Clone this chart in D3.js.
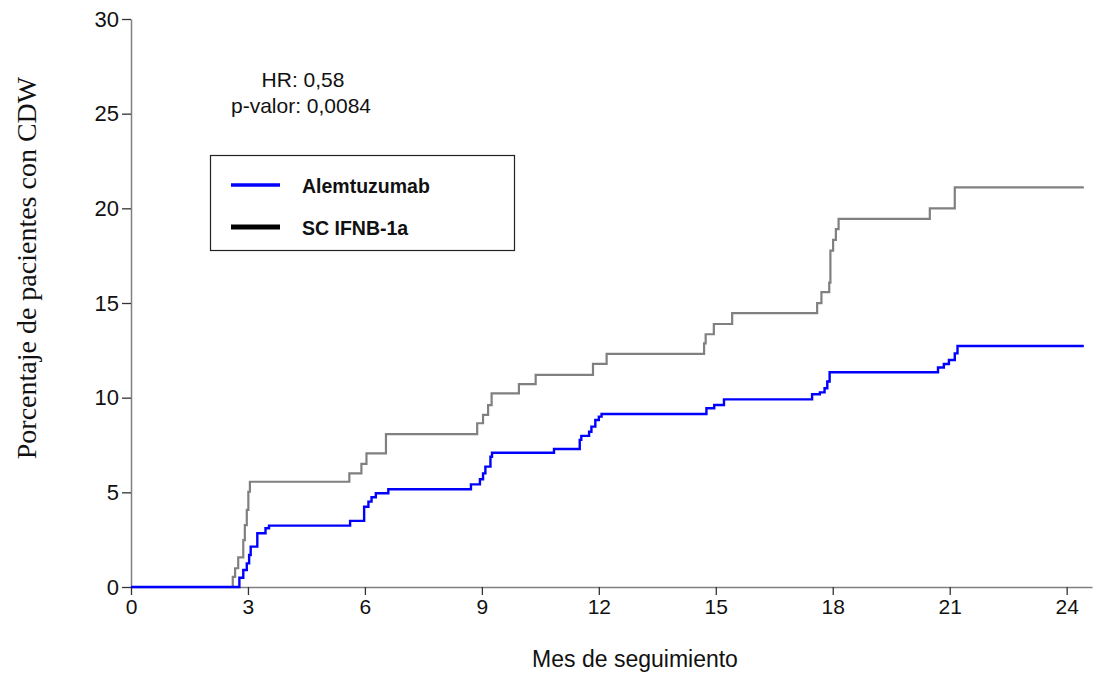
<!DOCTYPE html>
<html>
<head>
<meta charset="utf-8">
<script src="https://d3js.org/d3.v7.min.js"></script>
<style>
  body { margin: 0; background: #fff; }
  svg text { font-family: "Liberation Sans", Arial, sans-serif; fill: #111; }
</style>
</head>
<body>
<script>
// meses de seguimiento y % acumulado con CDW
var ifnMonths = [0, 2.61, 2.67, 2.75, 2.88, 2.92, 2.97, 3.01, 3.05, 5.60, 5.91, 6.04, 6.54,
  8.88, 9.03, 9.16, 9.25, 9.95, 10.38, 11.85, 12.2, 14.70, 14.74, 14.95, 15.42,
  17.60, 17.71, 17.91, 17.94, 18.01, 18.08, 18.15, 20.49, 21.13, 24.44];
var ifnValues = [0, 0.54, 0.99, 1.57, 2.48, 3.27, 4.07, 5.03, 5.56, 6.0, 6.5, 7.06, 8.07,
  8.65, 9.09, 9.61, 10.23, 10.71, 11.2, 11.78, 12.31, 12.87, 13.35, 13.89, 14.46,
  14.99, 15.57, 16.08, 17.77, 18.33, 18.9, 19.44, 20.0, 21.11, 21.11];

var alemMonths = [0, 2.78, 2.88, 2.97, 3.03, 3.07, 3.24, 3.45, 3.54, 5.62, 5.98, 6.09, 6.17,
  6.28, 6.60, 8.72, 8.95, 9.03, 9.09, 9.22, 9.26, 10.85, 11.51, 11.55, 11.75, 11.81,
  11.91, 12.0, 12.07, 14.76, 14.96, 15.21, 17.47, 17.67, 17.79, 17.86, 17.92, 20.70,
  20.85, 20.98, 21.13, 21.2, 24.44];
var alemValues = [0, 0.49, 0.9, 1.25, 1.69, 2.13, 2.84, 3.1, 3.24, 3.49, 4.24, 4.51, 4.74,
  4.95, 5.16, 5.42, 5.69, 6.0, 6.36, 6.88, 7.09, 7.29, 7.77, 7.98, 8.2, 8.47,
  8.82, 9.0, 9.14, 9.44, 9.61, 9.91, 10.18, 10.28, 10.5, 10.85, 11.34, 11.59,
  11.78, 11.99, 12.34, 12.73, 12.73];

var xTicks = [0, 3, 6, 9, 12, 15, 18, 21, 24];
var yTicks = [0, 5, 10, 15, 20, 25, 30];
var seriesNames = ["Alemtuzumab", "SC IFNB-1a"];

var width = 1095, height = 675;

var svg = d3.select("body").append("svg")
  .attr("width", width)
  .attr("height", height);

var x = d3.scaleLinear().domain([0, 24.65]).range([131, 1092]);
var y = d3.scaleLinear().domain([0, 30]).range([587, 19]);

// ejes
var yAxis = svg.append("g")
  .attr("transform", "translate(131,0)")
  .call(d3.axisLeft(y).tickValues(yTicks).tickSize(9).tickPadding(3).tickSizeOuter(0));
yAxis.select(".domain").attr("stroke", "#808080").attr("stroke-width", 1.5);
yAxis.selectAll(".tick line").attr("stroke", "#333").attr("stroke-width", 1.3);
yAxis.selectAll("text").style("font-size", "22px").attr("fill", "#111")
  .style("font-family", '"Liberation Sans", Arial, sans-serif');

var xAxis = svg.append("g")
  .attr("transform", "translate(0,587)")
  .call(d3.axisBottom(x).tickValues(xTicks).tickSize(8).tickPadding(4).tickSizeOuter(0));
xAxis.select(".domain").attr("stroke", "#808080").attr("stroke-width", 1.5);
xAxis.selectAll(".tick line").attr("stroke", "#333").attr("stroke-width", 1.3);
xAxis.selectAll("text").style("font-size", "21px").attr("fill", "#111")
  .style("font-family", '"Liberation Sans", Arial, sans-serif');

// curvas
var line = d3.line()
  .x(function(d) { return x(d[0]); })
  .y(function(d) { return y(d[1]); })
  .curve(d3.curveStepAfter);

svg.append("path")
  .datum(d3.zip(ifnMonths, ifnValues))
  .attr("fill", "none")
  .attr("stroke", "#808080")
  .attr("stroke-width", 2.2)
  .attr("d", line);

svg.append("path")
  .datum(d3.zip(alemMonths, alemValues))
  .attr("fill", "none")
  .attr("stroke", "#0000ff")
  .attr("stroke-width", 2.4)
  .attr("d", line);

// HR
svg.append("text").attr("x", 303).attr("y", 87).attr("text-anchor", "middle")
  .style("font-size", "21px").text("HR: 0,58");
svg.append("text").attr("x", 301).attr("y", 113).attr("text-anchor", "middle")
  .style("font-size", "21px").text("p-valor: 0,0084");

// leyenda
var legend = svg.append("g");
legend.append("rect")
  .attr("x", 210.5).attr("y", 155.5).attr("width", 304).attr("height", 95)
  .attr("fill", "#fff").attr("stroke", "#222").attr("stroke-width", 1.2);
var legColors = ["#0000ff", "#000"];
var legWidths = [3.5, 5];
seriesNames.forEach(function(name, i) {
  var ly = 185 + i * 42;
  legend.append("line")
    .attr("x1", 231).attr("x2", 280).attr("y1", ly).attr("y2", ly)
    .attr("stroke", legColors[i]).attr("stroke-width", legWidths[i]);
  legend.append("text")
    .attr("x", 302).attr("y", ly + 8)
    .style("font-size", "19.5px").style("font-weight", "bold")
    .text(name);
});

// títulos de ejes
svg.append("text")
  .attr("transform", "translate(36,268) rotate(-90)")
  .attr("text-anchor", "middle")
  .style("font-family", '"Liberation Serif", "Times New Roman", serif')
  .style("font-size", "28px")
  .text("Porcentaje de pacientes con CDW");

svg.append("text")
  .attr("x", 635).attr("y", 667)
  .attr("text-anchor", "middle")
  .style("font-size", "23px")
  .text("Mes de seguimiento");
</script>
</body>
</html>
